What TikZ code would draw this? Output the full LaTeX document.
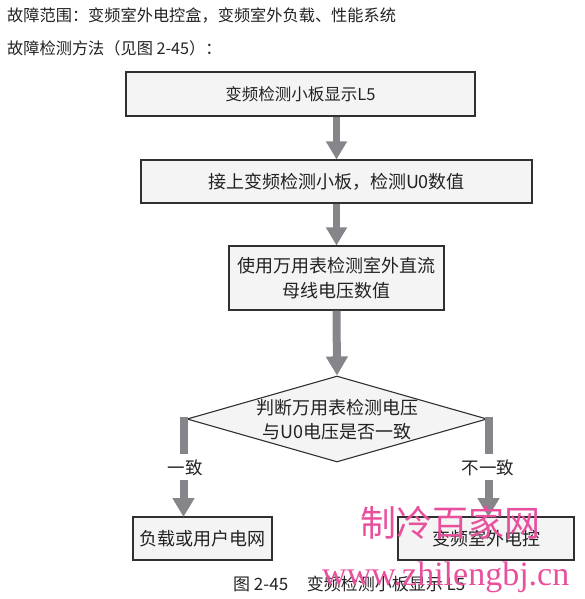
\documentclass[tikz,border=0pt]{standalone}
\usepackage{fontspec}
\setmainfont{Noto Sans CJK SC}
\newfontfamily\wmfont{Liberation Serif}
\usetikzlibrary{arrows.meta,shapes.geometric}
\definecolor{boxfill}{HTML}{F4F4F4}
\definecolor{boxline}{HTML}{303030}
\definecolor{arrgrey}{HTML}{85858A}
\definecolor{txt}{HTML}{222222}
\definecolor{wmpink}{HTML}{E8509E}
\tikzset{
  stepbox/.style={draw=boxline, fill=boxfill, line width=1.1pt, inner sep=0pt, text=txt, font=\fontsize{18}{25}\selectfont, align=center},
  decision/.style={diamond, draw=boxline, fill=boxfill, line width=1.1pt, inner sep=0pt, minimum width=300, minimum height=86},
  flowarrow/.style={draw=arrgrey, line width=8pt, -{Triangle[width=21pt,length=19pt]}},
  thinarrow/.style={draw=arrgrey, line width=6.5pt, -{Triangle[width=20pt,length=18pt]}},
  flowline/.style={draw=arrgrey, line width=8pt},
  lbl/.style={text=txt, font=\fontsize{17.5}{20}\selectfont, inner sep=0pt},
  plain/.style={text=txt, font=\fontsize{16.2}{18}\selectfont, inner sep=0pt, anchor=west},
  wm/.style={text=wmpink, inner sep=0pt}
}
\begin{document}
\begin{tikzpicture}[x=1pt,y=-1pt]
\useasboundingbox (0,0) rectangle (585,599);
\node[plain] (t1) at (7,15) {故障范围：变频室外电控盒，变频室外负载、性能系统};
\node[plain] (t2) at (7,48) {故障检测方法（见图 2-45）：};

\node[stepbox, font=\fontsize{16.5}{23}\selectfont, minimum width=349, minimum height=44] (b1) at (300.5,94) {变频检测小板显示L5};
\node[stepbox, minimum width=391, minimum height=43] (b2) at (336.5,181.5) {接上变频检测小板，检测U0数值};
\node[stepbox, minimum width=215, minimum height=64] (b3) at (336.5,278) {使用万用表检测室外直流\\母线电压数值};
\node[decision] (d) at (337,419) {};
\node[text=txt, font=\fontsize{18}{24}\selectfont, align=center, inner sep=0pt] (dt) at (337,420) {判断万用表检测电压\\与U0电压是否一致};
\node[stepbox, minimum width=139, minimum height=43] (bl) at (202.5,538.5) {负载或用户电网};
\node[stepbox, minimum width=176, minimum height=43] (br) at (486,538.5) {变频室外电控};

\coordinate (b1s) at (b2.north |- b1.south);
\draw[thinarrow] (b1s) -- (b2.north);
\draw[thinarrow] (b2.south) -- (b3.north);
\draw[flowarrow] (b3.south) -- (d.north);

\coordinate (ls) at (183.5,417);
\coordinate (le) at (183.5,454);
\coordinate (las) at (183.5,480);
\coordinate (lae) at (183.5,517);
\coordinate (rs) at (488.5,417);
\coordinate (re) at (488.5,454);
\coordinate (ras) at (488.5,480);
\coordinate (rae) at (488.5,517);
\draw[flowline] (ls) -- (le);
\draw[flowarrow] (las) -- (lae);
\draw[flowline] (rs) -- (re);
\draw[flowarrow] (ras) -- (rae);
\node[lbl] (l1) at (185,468) {一致};
\node[lbl] (l2) at (488,468) {不一致};

\node[text=txt, font=\fontsize{17}{20}\selectfont, inner sep=0pt, anchor=west] (cap) at (233,584) {图 2-45\hspace{1.1em}变频检测小板显示 L5};

\node[wm, font=\fontsize{36}{40}\selectfont, anchor=west] (wm1) at (360,523) {制冷百家网};
\node[wm, font=\wmfont\fontsize{34}{38}\selectfont, anchor=west] (wm2) at (322,577) {www.zhilengbj.cn};
\end{tikzpicture}
\end{document}
